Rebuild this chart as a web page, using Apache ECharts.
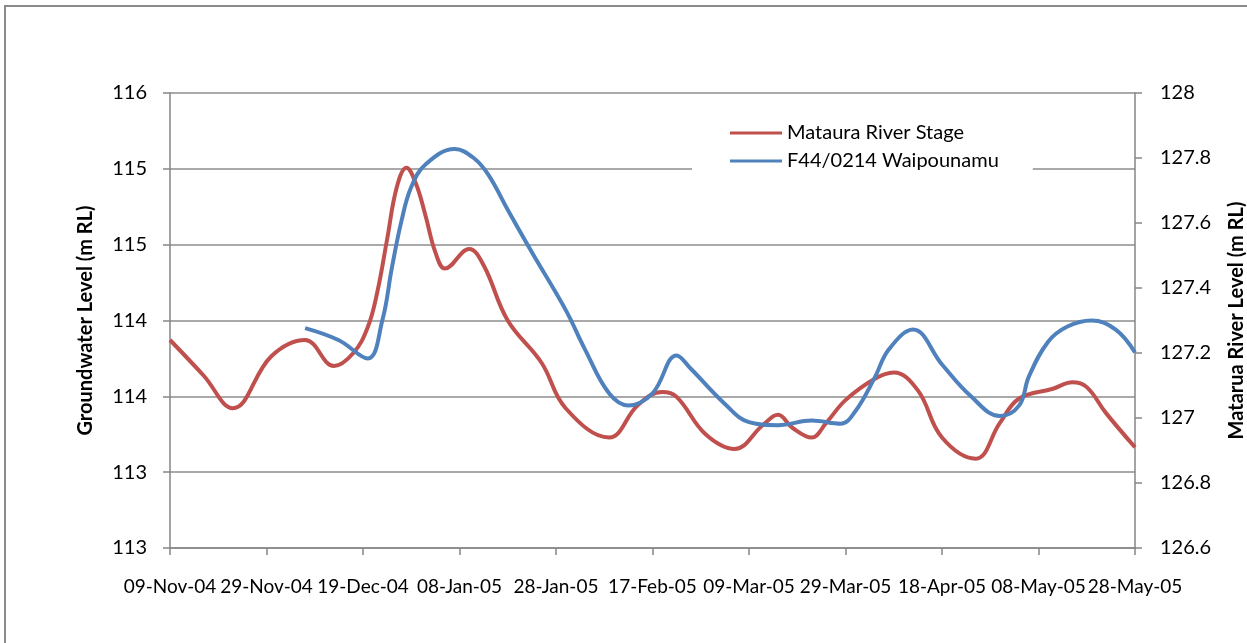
<!DOCTYPE html>
<html>
<head>
<meta charset="utf-8">
<script src="https://cdn.jsdelivr.net/npm/echarts@6/dist/echarts.min.js"></script>
<style>
  html, body { margin: 0; padding: 0; background: #fff; }
  #chart { width: 1247px; height: 643px; }
</style>
</head>
<body>
<div id="chart"></div>
<script>
// Mataura River stage (m RL, right axis)
const riverDates = [
  '2004-11-09','2004-11-16','2004-11-22','2004-11-30','2004-12-07','2004-12-13',
  '2004-12-17','2004-12-20','2004-12-22','2004-12-24','2004-12-26','2004-12-28',
  '2004-12-30','2005-01-01','2005-01-03','2005-01-05','2005-01-10','2005-01-13',
  '2005-01-18','2005-01-25','2005-01-30',
  '2005-02-08','2005-02-14','2005-02-19','2005-02-22','2005-02-28','2005-03-06',
  '2005-03-12','2005-03-15','2005-03-18','2005-03-22','2005-03-25','2005-03-29',
  '2005-04-04','2005-04-08','2005-04-13','2005-04-18','2005-04-25','2005-04-30',
  '2005-05-04','2005-05-11','2005-05-15','2005-05-18','2005-05-22','2005-05-28'
];
const riverStage = [
  127.24, 127.13, 127.03, 127.19, 127.24, 127.16,
  127.20, 127.28, 127.39, 127.55, 127.71, 127.77,
  127.72, 127.62, 127.51, 127.46, 127.52, 127.47,
  127.30, 127.17, 127.03,
  126.94, 127.04, 127.08, 127.065, 126.95, 126.905,
  126.98, 127.01, 126.97, 126.94, 126.985, 127.055,
  127.12, 127.14, 127.085, 126.94, 126.875, 126.985,
  127.06, 127.09, 127.11, 127.095, 127.015, 126.91
];

// F44/0214 Waipounamu groundwater level (m RL, left axis)
const wellDates = [
  '2004-12-07','2004-12-14','2004-12-20','2004-12-23','2004-12-25','2004-12-27',
  '2004-12-29','2005-01-01','2005-01-07','2005-01-11','2005-01-14','2005-01-18',
  '2005-01-23','2005-01-30','2005-02-03','2005-02-08','2005-02-12','2005-02-17',
  '2005-02-22','2005-02-25','2005-03-04','2005-03-09','2005-03-15','2005-03-22',
  '2005-03-28','2005-03-31','2005-04-04','2005-04-07','2005-04-12','2005-04-18',
  '2005-04-24','2005-04-30','2005-05-04','2005-05-06','2005-05-10','2005-05-14',
  '2005-05-19','2005-05-24','2005-05-28'
];
const wellLevel = [
  113.95, 113.87, 113.75, 114.00, 114.35, 114.66,
  114.88, 115.03, 115.13, 115.07, 114.96, 114.73,
  114.45, 114.07, 113.81, 113.52, 113.44, 113.52,
  113.77, 113.68, 113.45, 113.33, 113.31, 113.34,
  113.32, 113.40, 113.62, 113.81, 113.94, 113.71,
  113.50, 113.37, 113.44, 113.63, 113.86, 113.96,
  114.00, 113.94, 113.79
];

const seriesNames = ['Mataura River Stage', 'F44/0214 Waipounamu'];
const axisNames = ['Groundwater Level (m RL)', 'Matarua River Level (m RL)'];

// Date axis runs as day offsets from the first tick date, ticks every 20 days
const startDate = '2004-11-09';
const endDate = '2005-05-28';
const DAY = 86400000;
const t0 = Date.parse(startDate);
const dayOf = s => Math.round((Date.parse(s) - t0) / DAY);
const MONTHS = ['Jan','Feb','Mar','Apr','May','Jun','Jul','Aug','Sep','Oct','Nov','Dec'];
function dayLabel(d) {
  const dt = new Date(t0 + d * DAY);
  const dd = String(dt.getUTCDate()).padStart(2, '0');
  const yy = String(dt.getUTCFullYear() % 100).padStart(2, '0');
  return dd + '-' + MONTHS[dt.getUTCMonth()] + '-' + yy;
}

const riverData = riverDates.map((s, i) => [dayOf(s), riverStage[i]]);
const wellData = wellDates.map((s, i) => [dayOf(s), wellLevel[i]]);

const FONT = 'Lato, "Liberation Sans", sans-serif';
const AXIS_GREY = '#868686';
const labelStyle = { color: '#000', fontFamily: FONT, fontSize: 20 };
const nameStyle = { color: '#000', fontFamily: FONT, fontSize: 20, fontWeight: 'bold' };

const chart = echarts.init(document.getElementById('chart'), null, { renderer: 'canvas' });
chart.setOption({
  animation: false,
  backgroundColor: '#fff',
  graphic: [{
    type: 'rect',
    shape: { x: 5, y: 6, width: 1270, height: 680 },
    style: { fill: null, stroke: '#8a8a8a', lineWidth: 2 },
    silent: true
  }],
  grid: { left: 170, right: 112, top: 93, bottom: 95, containLabel: false, outerBoundsMode: 'none' },
  legend: {
    orient: 'vertical',
    left: 692,
    top: 109,
    padding: [14, 34, 16, 38],
    backgroundColor: '#fff',
    itemWidth: 52,
    itemHeight: 3,
    itemGap: 8,
    icon: 'rect',
    data: seriesNames,
    textStyle: { color: '#000', fontFamily: FONT, fontSize: 20 }
  },
  xAxis: {
    type: 'value',
    min: 0,
    max: dayOf(endDate),
    interval: 20,
    axisLine: { show: true, lineStyle: { color: AXIS_GREY, width: 1.5 } },
    axisTick: { show: true, inside: false, length: 7, lineStyle: { color: AXIS_GREY, width: 1.5 } },
    axisLabel: {
      ...labelStyle,
      fontSize: 19,
      margin: 29,
      showMinLabel: true,
      showMaxLabel: true,
      hideOverlap: false,
      formatter: v => dayLabel(v)
    },
    splitLine: { show: false }
  },
  yAxis: [{
    type: 'value',
    position: 'left',
    min: 112.5,
    max: 115.5,
    interval: 0.5,
    name: axisNames[0],
    nameLocation: 'middle',
    nameRotate: 90,
    nameGap: 74,
    nameTextStyle: nameStyle,
    axisLine: { show: true, lineStyle: { color: AXIS_GREY, width: 1.5 } },
    axisTick: { show: true, inside: false, length: 7, lineStyle: { color: AXIS_GREY, width: 1.5 } },
    axisLabel: { ...labelStyle, margin: 23, formatter: v => String(Math.round(v)) },
    splitLine: { show: true, lineStyle: { color: '#8c8c8c', width: 1.5 } }
  }, {
    type: 'value',
    position: 'right',
    min: 126.6,
    max: 128,
    interval: 0.2,
    name: axisNames[1],
    nameLocation: 'middle',
    nameRotate: 90,
    nameGap: 92,
    nameTextStyle: nameStyle,
    axisLine: { show: true, lineStyle: { color: AXIS_GREY, width: 1.5 } },
    axisTick: { show: true, inside: false, length: 7, lineStyle: { color: AXIS_GREY, width: 1.5 } },
    axisLabel: { ...labelStyle, margin: 25 },
    splitLine: { show: false }
  }],
  series: [{
    name: seriesNames[0],
    type: 'line',
    yAxisIndex: 1,
    data: riverData,
    smooth: 0.4,
    symbol: 'none',
    color: '#C0504D',
    lineStyle: { color: '#C0504D', width: 4 }
  }, {
    name: seriesNames[1],
    type: 'line',
    yAxisIndex: 0,
    data: wellData,
    smooth: 0.4,
    symbol: 'none',
    color: '#4F81BD',
    lineStyle: { color: '#4F81BD', width: 4 }
  }]
});
</script>
</body>
</html>
